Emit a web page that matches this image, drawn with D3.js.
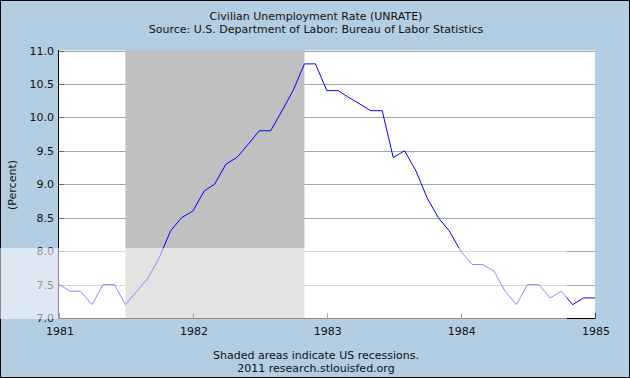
<!DOCTYPE html>
<html><head><meta charset="utf-8">
<script src="https://cdn.jsdelivr.net/npm/d3@7"></script>
<style>
html,body{margin:0;padding:0;background:#fff;}
svg{display:block;}
text{font-family:"DejaVu Sans",Verdana,sans-serif;fill:#111;}
</style></head>
<body>
<svg id="chart" width="630" height="378"></svg>
<script>
// ---- data ----
const startYear = 1981, startMonth = 0;
const unrate = [
  7.5,7.4,7.4,7.2,7.5,7.5,7.2,7.4,7.6,7.9,8.3,8.5,
  8.6,8.9,9.0,9.3,9.4,9.6,9.8,9.8,10.1,10.4,10.8,10.8,
  10.4,10.4,10.3,10.2,10.1,10.1,9.4,9.5,9.2,8.8,8.5,8.3,
  8.0,7.8,7.8,7.7,7.4,7.2,7.5,7.5,7.3,7.4,7.2,7.3,
  7.3
];
const recessions = [["1981-07-01","1982-11-01"]];
const yTicks = [7.0,7.5,8.0,8.5,9.0,9.5,10.0,10.5,11.0];
const xTickYears = [1981,1982,1983,1984,1985];
const titleLines = ["Civilian Unemployment Rate (UNRATE)","Source: U.S. Department of Labor: Bureau of Labor Statistics"];
const footerLines = ["Shaded areas indicate US recessions.","2011 research.stlouisfed.org"];
const yLabel = "(Percent)";

// ---- build ----
const W=630,H=378;
const plot={left:59,right:595,top:50.5,bottom:318};
const svg=d3.select("#chart");
const parse=d3.timeParse("%Y-%m-%d");
const series=unrate.map((v,i)=>({date:new Date(startYear,startMonth+i,1),value:v}));

const x=d3.scaleTime().domain([new Date(1981,0,1),new Date(1985,0,1)]).range([plot.left,plot.right]);
const y=d3.scaleLinear().domain([7,11]).range([plot.bottom,plot.top]);

svg.append("rect").attr("x",0.5).attr("y",0.5).attr("width",W-1).attr("height",H-1)
  .attr("fill","#b3cde3").attr("stroke","#000");

svg.append("rect").attr("x",plot.left).attr("y",plot.top).attr("width",plot.right-plot.left).attr("height",plot.bottom-plot.top)
  .attr("fill","#fff");

// gridlines
svg.append("g").selectAll("line").data(yTicks).join("line")
  .attr("x1",plot.left).attr("x2",plot.right)
  .attr("y1",d=>Math.round(y(d))+0.5).attr("y2",d=>Math.round(y(d))+0.5)
  .attr("stroke","#a6a6a6").attr("stroke-width",1);

// recession shading
svg.append("g").selectAll("rect").data(recessions).join("rect")
  .attr("x",d=>x(parse(d[0]))).attr("width",d=>x(parse(d[1]))-x(parse(d[0])))
  .attr("y",plot.top-0.5).attr("height",plot.bottom-plot.top+0.5)
  .attr("fill","#c0c0c0");

// y ticks inside
svg.append("g").selectAll("line").data(yTicks).join("line")
  .attr("x1",plot.left).attr("x2",plot.left+5)
  .attr("y1",d=>Math.round(y(d))+0.5).attr("y2",d=>Math.round(y(d))+0.5)
  .attr("stroke","#666");

// axes lines
svg.append("line").attr("x1",plot.left-0.5).attr("x2",plot.left-0.5).attr("y1",plot.top-0.5).attr("y2",plot.bottom+0.5).attr("stroke","#000");
svg.append("line").attr("x1",plot.left-0.5).attr("x2",plot.right+0.5).attr("y1",plot.bottom+0.5).attr("y2",plot.bottom+0.5).attr("stroke","#000");

// x ticks
svg.append("g").selectAll("line").data(xTickYears).join("line")
  .attr("x1",d=>Math.round(x(new Date(d,0,1)))+0.5).attr("x2",d=>Math.round(x(new Date(d,0,1)))+0.5)
  .attr("y1",plot.bottom-5).attr("y2",plot.bottom+0.5).attr("stroke","#444");

// line
const line=d3.line().x(d=>x(d.date)).y(d=>y(d.value));
svg.append("path").datum(series).attr("d",line).attr("fill","none").attr("stroke","#0000ff").attr("stroke-width",1);

// y labels
svg.append("g").selectAll("text").data(yTicks).join("text")
  .attr("x",plot.left-5).attr("y",d=>y(d)+4).attr("text-anchor","end")
  .attr("font-size","11px").text(d=>d.toFixed(1));

// x labels
svg.append("g").selectAll("text").data(xTickYears).join("text")
  .attr("x",d=>x(new Date(d,0,1))+1).attr("y",335).attr("text-anchor","middle")
  .attr("font-size","11px").text(d=>d);

// titles
svg.append("g").selectAll("text").data(titleLines).join("text")
  .attr("x",316).attr("y",(d,i)=>20+i*12.5).attr("text-anchor","middle")
  .attr("font-size","11px").text(d=>d);

svg.append("g").selectAll("text").data(footerLines).join("text")
  .attr("x",316).attr("y",(d,i)=>359+i*12.5).attr("text-anchor","middle")
  .attr("font-size","11px").text(d=>d);

svg.append("text").attr("transform","translate(16,185) rotate(-90)").attr("text-anchor","middle")
  .attr("font-size","11px").text(yLabel);

// translucent band present in the reference image
svg.append("rect").attr("x",0).attr("y",248).attr("width",567).attr("height",71)
  .attr("fill","#fff").attr("opacity",0.55);
</script>
</body></html>
